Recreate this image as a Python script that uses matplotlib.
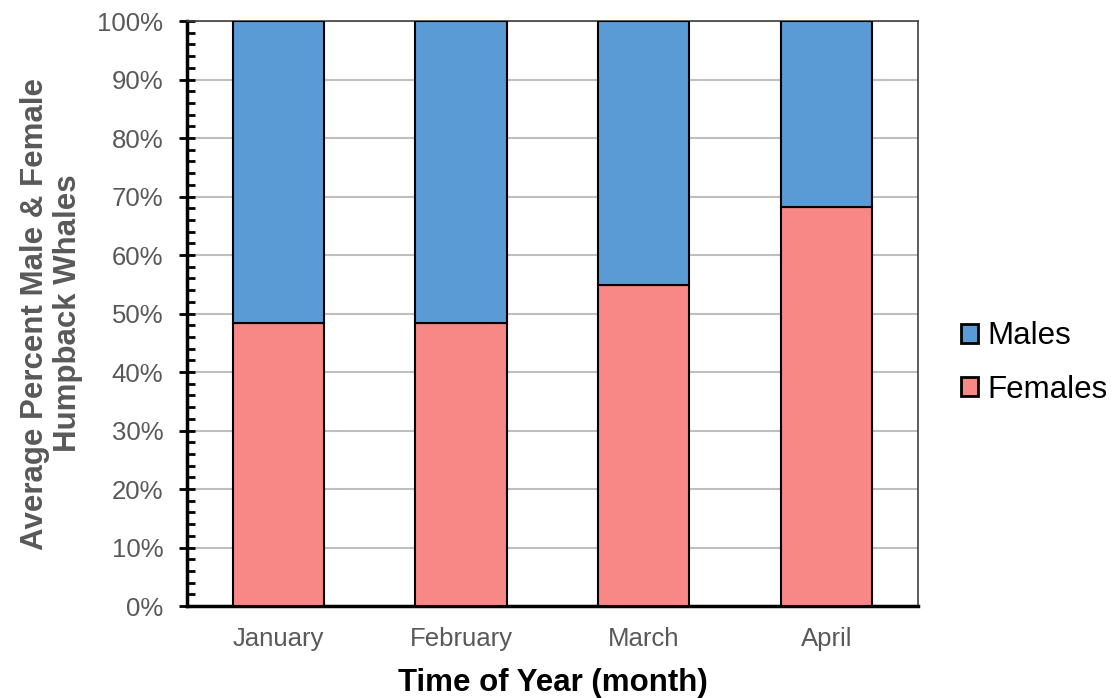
import matplotlib.pyplot as plt
from matplotlib.ticker import MultipleLocator, PercentFormatter

plt.rcParams['font.family'] = ['Liberation Sans', 'DejaVu Sans']

months = ["January", "February", "March", "April"]
females = [48.4, 48.4, 54.9, 68.2]
males = [100 - f for f in females]

fig = plt.figure(figsize=(11.12, 6.98), dpi=100)
ax = fig.add_axes([0.168, 0.1318, 0.6575, 0.838])

x = range(len(months))
ax.bar(x, females, width=0.5, color='#F88886', edgecolor='black', linewidth=1.5, label='Females', zorder=3)
ax.bar(x, males, width=0.5, bottom=females, color='#5B9BD5', edgecolor='black', linewidth=1.5, label='Males', zorder=3)

ax.set_xlim(-0.5, 3.5)
ax.set_ylim(0, 100)
ax.yaxis.set_major_locator(MultipleLocator(10))
ax.yaxis.set_minor_locator(MultipleLocator(2))
ax.yaxis.set_major_formatter(PercentFormatter(decimals=0))
ax.grid(axis='y', color='#BFBFBF', linewidth=1.5, zorder=0)

ax.set_xticks(list(x))
ax.set_xticklabels(months)
ax.tick_params(axis='x', length=0, pad=15, labelsize=18.5, labelcolor='#595959')
ax.tick_params(axis='y', which='major', direction='inout', length=12, width=2, labelsize=18.5, labelcolor='#595959', pad=11)
ax.tick_params(axis='y', which='minor', direction='in', length=6, width=2)

for side in ['top', 'right']:
    ax.spines[side].set_color('#404040')
    ax.spines[side].set_linewidth(1.2)
ax.spines['left'].set_linewidth(2.5)
ax.spines['bottom'].set_linewidth(2.5)

ax.set_xlabel("Time of Year (month)", fontsize=22.5, fontweight='bold', labelpad=12)
ax.set_ylabel("Average Percent Male & Female\nHumpback Whales", fontsize=22.5, fontweight='bold',
              color='#595959', labelpad=10, linespacing=1.15)

handles, labels = ax.get_legend_handles_labels()
leg = fig.legend(handles[::-1], labels[::-1], loc='center left', bbox_to_anchor=(0.864, 0.48),
                 frameon=False, fontsize=22.5, handlelength=0.55, handleheight=0.55,
                 handletextpad=0.3, labelspacing=0.75, borderpad=0, borderaxespad=0)
for patch in leg.get_patches():
    patch.set_linewidth(2)

fig.savefig("out.png", dpi=100)
